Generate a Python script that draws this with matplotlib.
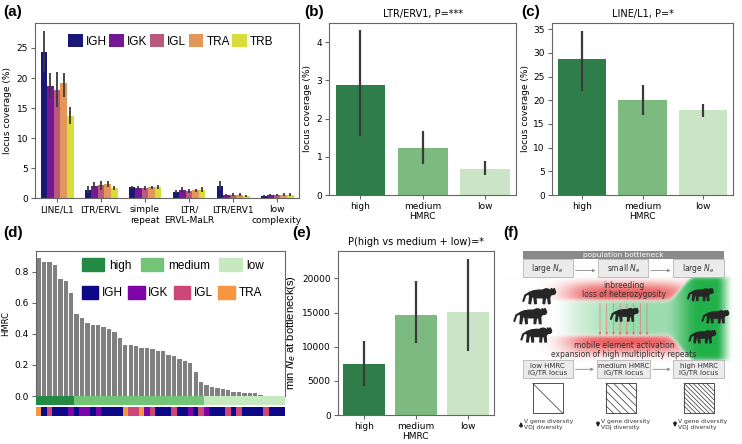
import colorsys
import numpy as np
import matplotlib
matplotlib.use("Agg")
import matplotlib.pyplot as plt
import matplotlib.colors as mcolors
from matplotlib.patches import Rectangle, Ellipse, Polygon, Patch

# ---------------- data ----------------
te_classes = ["LINE/L1", "LTR/ERVL", "simple\nrepeat", "LTR/\nERVL-MaLR", "LTR/ERV1", "low\ncomplexity"]
loci = ["IGH", "IGK", "IGL", "TRA", "TRB"]
cov_mean = {
    "IGH": [24.3, 1.4, 1.8, 1.1, 2.0, 0.4],
    "IGK": [18.6, 2.1, 1.7, 1.4, 0.5, 0.5],
    "IGL": [18.0, 2.2, 1.7, 1.2, 0.6, 0.5],
    "TRA": [19.1, 2.4, 1.8, 1.3, 0.6, 0.6],
    "TRB": [13.7, 1.7, 1.8, 1.4, 0.4, 0.6],
}
cov_lo = {
    "IGH": [21.0, 0.8, 1.5, 0.8, 1.3, 0.2],
    "IGK": [16.6, 1.5, 1.4, 1.0, 0.3, 0.3],
    "IGL": [15.1, 1.4, 1.4, 0.8, 0.4, 0.3],
    "TRA": [16.9, 1.9, 1.5, 1.0, 0.4, 0.4],
    "TRB": [12.3, 1.3, 1.5, 1.0, 0.2, 0.4],
}
cov_hi = {
    "IGH": [27.8, 2.0, 2.1, 1.4, 2.8, 0.6],
    "IGK": [20.9, 2.7, 2.0, 1.8, 0.7, 0.7],
    "IGL": [21.0, 2.9, 2.0, 1.6, 0.8, 0.7],
    "TRA": [20.9, 2.9, 2.1, 1.6, 0.8, 0.8],
    "TRB": [15.1, 2.1, 2.2, 1.8, 0.6, 0.8],
}

hmrc_groups = ["high", "medium", "low"]
erv1_mean = [2.87, 1.22, 0.68]
erv1_lo = [1.55, 0.82, 0.52]
erv1_hi = [4.32, 1.68, 0.88]

l1_mean = [28.7, 20.1, 17.9]
l1_lo = [22.0, 17.0, 16.5]
l1_hi = [34.7, 23.2, 19.3]

ne_mean = [7500, 14700, 15100]
ne_lo = [4200, 10600, 9300]
ne_hi = [10900, 19600, 22900]

hmrc_vals = [0.885, 0.865, 0.86, 0.845, 0.75, 0.74, 0.665,
             0.53, 0.50, 0.47, 0.46, 0.455, 0.445, 0.43, 0.415, 0.37, 0.325,
             0.325, 0.32, 0.31, 0.31, 0.30, 0.29, 0.29, 0.265, 0.255, 0.235,
             0.225, 0.21, 0.152, 0.092,
             0.069, 0.060, 0.050, 0.047, 0.037, 0.028, 0.023, 0.021, 0.019,
             0.017, 0.009, 0.0, 0.0, 0.0, 0.0]
hmrc_group_sizes = [7, 24, 15]
locus_seq = ["TRA", "IGH", "IGL", "IGH", "IGH", "IGH", "IGK", "IGH", "IGK", "IGK",
             "IGH", "IGK", "IGH", "IGH", "IGH", "IGH", "TRA", "IGL", "IGL", "TRA",
             "IGK", "IGL", "IGH", "IGH", "IGH", "IGL", "IGH", "IGH", "IGK", "IGH",
             "IGL", "IGK", "IGH", "IGH", "IGH", "IGL", "IGH", "IGL", "IGH", "IGH",
             "IGH", "IGH", "IGL", "IGH", "IGH", "IGH"]

# ---------------- style ----------------
W, H = 742, 444
plt.rcParams["font.family"] = ["DejaVu Sans"]
locus_colors = dict(zip(loci, plt.cm.plasma(np.linspace(0, 1, 5))))
group_colors = dict(zip(hmrc_groups, plt.cm.Greens([0.75, 0.5, 0.25])))
ebar = "#3a3a3a"
lab_font = "Liberation Sans"


def desat(c, prop=0.75):
    r, g, b = mcolors.to_rgb(c)
    h, l, s = colorsys.rgb_to_hls(r, g, b)
    return colorsys.hls_to_rgb(h, l, s * prop)


def style_ax(ax):
    for s in ax.spines.values():
        s.set_color("0.4")
        s.set_linewidth(0.8)
    ax.tick_params(labelsize=6.5, length=3, width=0.8, color="0.4", pad=2)


def axes_px(x0, y0, x1, y1):
    return fig.add_axes([x0 / W, 1 - y1 / H, (x1 - x0) / W, (y1 - y0) / H])


fig = plt.figure(figsize=(W / 100, H / 100), dpi=100)

# ---------------- (a) ----------------
ax = axes_px(35, 22.7, 299, 198.3)
x = np.arange(len(te_classes))
bw = 0.15
for i, locus in enumerate(loci):
    m = np.array(cov_mean[locus])
    lo = np.array(cov_lo[locus])
    hi = np.array(cov_hi[locus])
    pos = x + (i - 2) * bw
    ax.bar(pos, m, bw, color=desat(locus_colors[locus]), label=locus)
    ax.errorbar(pos, m, yerr=[m - lo, hi - m], fmt="none", ecolor=ebar, elinewidth=1.3)
ax.set_xlim(-0.5, len(te_classes) - 0.5)
ax.set_ylim(0, 29.2)
ax.set_xticks(x)
ax.set_xticklabels(te_classes)
ax.set_yticks([0, 5, 10, 15, 20, 25])
ax.set_ylabel("locus coverage (%)", fontsize=6.5, labelpad=3)
style_ax(ax)
ax.legend(loc="upper right", bbox_to_anchor=(0.93, 0.975), ncol=5, frameon=False,
          prop={"family": lab_font, "size": 8.5}, handlelength=1.25, handleheight=1.35,
          handletextpad=0.25, columnspacing=0.2, borderaxespad=0.2)


# ---------------- (b), (c), (e) ----------------
def hmrc_bar(ax, m, lo, hi, title, ylim, yticks):
    m, lo, hi = np.array(m), np.array(lo), np.array(hi)
    xx = np.arange(len(hmrc_groups))
    ax.bar(xx, m, 0.8, color=[desat(group_colors[g]) for g in hmrc_groups])
    ax.errorbar(xx, m, yerr=[m - lo, hi - m], fmt="none", ecolor=ebar, elinewidth=1.6)
    ax.set_xlim(-0.5, 2.5)
    ax.set_ylim(*ylim)
    ax.set_yticks(yticks)
    ax.set_xticks(xx)
    ax.set_xticklabels(hmrc_groups)
    ax.set_xlabel("HMRC", fontsize=6.5, labelpad=1)
    ax.set_title(title, fontsize=7, pad=4)
    style_ax(ax)


axb = axes_px(329.3, 22.7, 516, 195)
hmrc_bar(axb, erv1_mean, erv1_lo, erv1_hi, "LTR/ERV1, P=***", (0, 4.51), [0, 1, 2, 3, 4])
axb.set_ylabel("locus coverage (%)", fontsize=6.5, labelpad=3)

axc = axes_px(551.7, 22.7, 733.3, 195)
hmrc_bar(axc, l1_mean, l1_lo, l1_hi, "LINE/L1, P=*", (0, 36.4), [0, 5, 10, 15, 20, 25, 30, 35])
axc.set_ylabel("locus coverage (%)", fontsize=6.5, labelpad=2)

axe = axes_px(337.7, 251, 494, 415)
hmrc_bar(axe, ne_mean, ne_lo, ne_hi, "P(high vs medium + low)=*", (0, 24000),
         [0, 5000, 10000, 15000, 20000])
axe.set_ylabel("min $N_e$ at bottleneck(s)", fontsize=8, family=lab_font, labelpad=3)

# ---------------- (d) ----------------
axd = axes_px(36, 251, 285, 396)
n = len(hmrc_vals)
xd = np.arange(n)
axd.bar(xd, hmrc_vals, 0.8, color="#808080")
axd.set_xlim(-0.5, n - 0.5)
axd.set_ylim(0, 0.933)
axd.set_yticks([0.0, 0.2, 0.4, 0.6, 0.8])
axd.set_xticks([])
axd.set_ylabel("HMRC", fontsize=6, labelpad=3)
style_ax(axd)
axd.spines["bottom"].set_visible(False)

axs = axes_px(36, 396, 285, 415.7)
grp_seq = [g for g, k in zip(hmrc_groups, hmrc_group_sizes) for _ in range(k)]
axs.bar(xd, 1.0, 1.0, bottom=1.08, color=[group_colors[g] for g in grp_seq])
axs.bar(xd, 0.95, 1.0, bottom=0.0, color=[locus_colors[l] for l in locus_seq])
axs.set_xlim(-0.5, n - 0.5)
axs.set_ylim(0, 2.08)
axs.axis("off")

h1 = [Patch(color=group_colors[g], label=g) for g in hmrc_groups]
h2 = [Patch(color=locus_colors[l], label=l) for l in loci[:4]]
leg1 = axd.legend(handles=h1, loc="upper left", bbox_to_anchor=(0.16, 0.99), ncol=3,
                  frameon=False, prop={"family": lab_font, "size": 8.5}, handlelength=1.9,
                  handleheight=1.3, handletextpad=0.4, columnspacing=0.8, borderaxespad=0.1)
axd.add_artist(leg1)
axd.legend(handles=h2, loc="upper left", bbox_to_anchor=(0.16, 0.80), ncol=4,
           frameon=False, prop={"family": lab_font, "size": 8.5}, handlelength=1.4,
           handleheight=1.3, handletextpad=0.3, columnspacing=0.45, borderaxespad=0.1)

# ---------------- (f) schematic ----------------
axf = fig.add_axes([500 / W, 0, 242 / W, 224 / H])
axf.set_xlim(0, 242)
axf.set_ylim(224, 0)
axf.axis("off")


def smooth(t):
    t = np.clip(t, 0, 1)
    return t * t * (3 - 2 * t)


def sig(t):
    return 1 / (1 + np.exp(-t))


gx, gy = np.meshgrid(np.arange(242) + 0.5, np.arange(224) + 0.5)
up = 81 - 24 * smooth((gx - 166) / 30)
dn = 115 + 25 * smooth((gx - 166) / 30)
inside = sig((gy - up) / 1.2) * sig((dn - gy) / 1.2)
ag = inside * (0.15 + 0.3 * smooth((gx - 60) / 70) + 0.55 * smooth((gx - 165) / 35))
ag *= smooth((gx - 50) / 30) * (1 - smooth((gx - 216) / 18))
xfade = np.exp(-((gx - 127) / 62) ** 4)
ar_top = xfade * smooth((gy - 55) / 18) * sig((up - 1.5 - gy) / 1.0) * 0.8
ar_bot = xfade * smooth((143 - gy) / 22) * sig((gy - dn - 1.5) / 1.0) * 0.8
ar = np.clip(ar_top + ar_bot, 0, 1)
green = np.array(mcolors.to_rgb("#22b04a"))
red = np.array(mcolors.to_rgb("#e8383b"))
img = np.ones(gx.shape + (3,))
img = img * (1 - ag[..., None]) + green * ag[..., None]
img = img * (1 - ar[..., None]) + red * ar[..., None]
axf.imshow(img, extent=(0, 242, 224, 0), interpolation="bilinear", zorder=0, aspect="auto")

box_fc, box_ec = "#ebebeb", "#b5b5b5"
axf.add_patch(Rectangle((22.7, 30.7), 201.3, 8.6, fc="#8a8a8a", ec="none", zorder=2))
axf.text(123, 35, "population bottleneck", color="white", fontsize=5.3, ha="center",
         va="center", zorder=3)
top_boxes = [(22.7, 72.7, "large $N_e$"), (98.3, 148.3, "small $N_e$"), (173.3, 224, "large $N_e$")]
bot_boxes = [(22.7, 72.7, "low HMRC\nIG/TR locus"), (96.7, 150, "medium HMRC\nIG/TR locus"),
             (173.3, 224, "high HMRC\nIG/TR locus")]
for x0, x1, t in top_boxes:
    axf.add_patch(Rectangle((x0, 39.3), x1 - x0, 18, fc=box_fc, ec=box_ec, lw=0.6, zorder=2))
    axf.text((x0 + x1) / 2, 48.5, t, fontsize=5.5, ha="center", va="center", color="#333",
             zorder=3)
for x0, x1, t in bot_boxes:
    axf.add_patch(Rectangle((x0, 140), x1 - x0, 18.3, fc=box_fc, ec=box_ec, lw=0.6, zorder=2))
    axf.text((x0 + x1) / 2, 149.3, t, fontsize=5, ha="center", va="center", color="#333",
             linespacing=1.1, zorder=3)
for (a0, b0), yy in [((72.7, 98.3), 50.5), ((148.3, 173.3), 50.5),
                     ((72.7, 96.7), 149.3), ((150, 173.3), 149.3)]:
    axf.annotate("", xy=(b0, yy), xytext=(a0, yy),
                 arrowprops=dict(arrowstyle="-|>", color="#8a8a8a", lw=0.6, mutation_scale=4),
                 zorder=3)

axf.text(124, 65.5, "inbreeding", fontsize=5.5, ha="center", va="center", color="#333", zorder=3)
axf.text(124, 74.5, "loss of heterozygosity", fontsize=5.5, ha="center", va="center",
         color="#333", zorder=3)
axf.text(124, 125, "mobile element activation", fontsize=5.5, ha="center", va="center",
         color="#333", zorder=3)
axf.text(124, 134, "expansion of high multiplicity repeats", fontsize=5.5, ha="center",
         va="center", color="#333", zorder=3)

for xa in np.linspace(100, 147, 8):
    axf.annotate("", xy=(xa, 118), xytext=(xa, 81),
                 arrowprops=dict(arrowstyle="-|>", color="#e86b6b", lw=0.5,
                                 linestyle=(0, (2, 1.2)), mutation_scale=3.5), zorder=3)


def cat(ax, cx, cy, s, face=1):
    # rough big-cat silhouette: long low body, small head, tail
    c = "#262626"
    ax.add_patch(Ellipse((cx, cy), 0.7 * s, 0.24 * s, color=c, zorder=4))
    ax.add_patch(Ellipse((cx + face * 0.2 * s, cy - 0.02 * s), 0.3 * s, 0.28 * s, color=c,
                         zorder=4))
    hx, hy = cx + face * 0.4 * s, cy - 0.06 * s
    ax.add_patch(Ellipse((hx, hy), 0.17 * s, 0.15 * s, color=c, zorder=4))
    for dx in (-0.04, 0.04):
        ex = hx + face * dx * s
        ax.add_patch(Polygon([(ex - 0.025 * s, hy - 0.05 * s), (ex, hy - 0.12 * s),
                              (ex + 0.025 * s, hy - 0.05 * s)], color=c, zorder=4))
    for dx, lean in ((-0.28, -0.04), (-0.17, 0.03), (0.15, -0.03), (0.26, 0.03)):
        bx = cx + face * dx * s
        ax.add_patch(Polygon([(bx - 0.035 * s, cy), (bx + 0.035 * s, cy),
                              (bx + face * lean * s + 0.025 * s, cy + 0.3 * s),
                              (bx + face * lean * s - 0.025 * s, cy + 0.3 * s)],
                             color=c, zorder=4))
    ax.plot([cx - face * 0.32 * s, cx - face * 0.46 * s, cx - face * 0.52 * s],
            [cy - 0.04 * s, cy + 0.04 * s, cy + 0.22 * s], color=c, lw=1.5,
            solid_capstyle="round", zorder=4)


for cx, cy, s, f in [(40, 74, 32, 1), (31, 94, 32, 1), (37, 113, 30, 1),
                     (125, 93, 27, 1), (201, 73, 25, 1), (216, 95, 26, 1), (203, 115, 26, 1)]:
    cat(axf, cx, cy, s, f)

L = 30
for x0, nlines in [(32.7, 1), (106, 7), (184, 11)]:
    y0 = 163.3
    axf.add_patch(Rectangle((x0, y0), L, L, fc="white", ec="#333", lw=0.6, zorder=2))
    offs = [0.0] if nlines == 1 else np.linspace(-0.75, 0.75, nlines) * L
    for d in offs:
        xs = [x0 + max(0, -d), x0 + min(L, L - d)]
        ys = [y0 + max(0, d), y0 + min(L, L + d)]
        axf.plot(xs, ys, color="#333", lw=0.5, zorder=3)

for xa, upward in [(21, True), (98, False), (175, False)]:
    a, b = (210, 199) if upward else (199, 210)
    axf.annotate("", xy=(xa, b), xytext=(xa, a),
                 arrowprops=dict(arrowstyle="-|>", color="#222", lw=1.0, mutation_scale=5),
                 zorder=3)
    axf.text(xa + 3, 204.5, "V gene diversity\nVDJ diversity", fontsize=4.3, ha="left",
             va="center", color="#333", linespacing=1.15, zorder=3)

# ---------------- panel labels ----------------
for t, px, py in [("(a)", 3, 12), ("(b)", 304, 12), ("(c)", 521, 12),
                  ("(d)", 3, 233), ("(e)", 292, 233), ("(f)", 503, 233)]:
    fig.text(px / W, 1 - py / H, t, fontsize=11, fontweight="bold", family=lab_font,
             ha="left", va="center")

fig.savefig("out.png", dpi=100)
